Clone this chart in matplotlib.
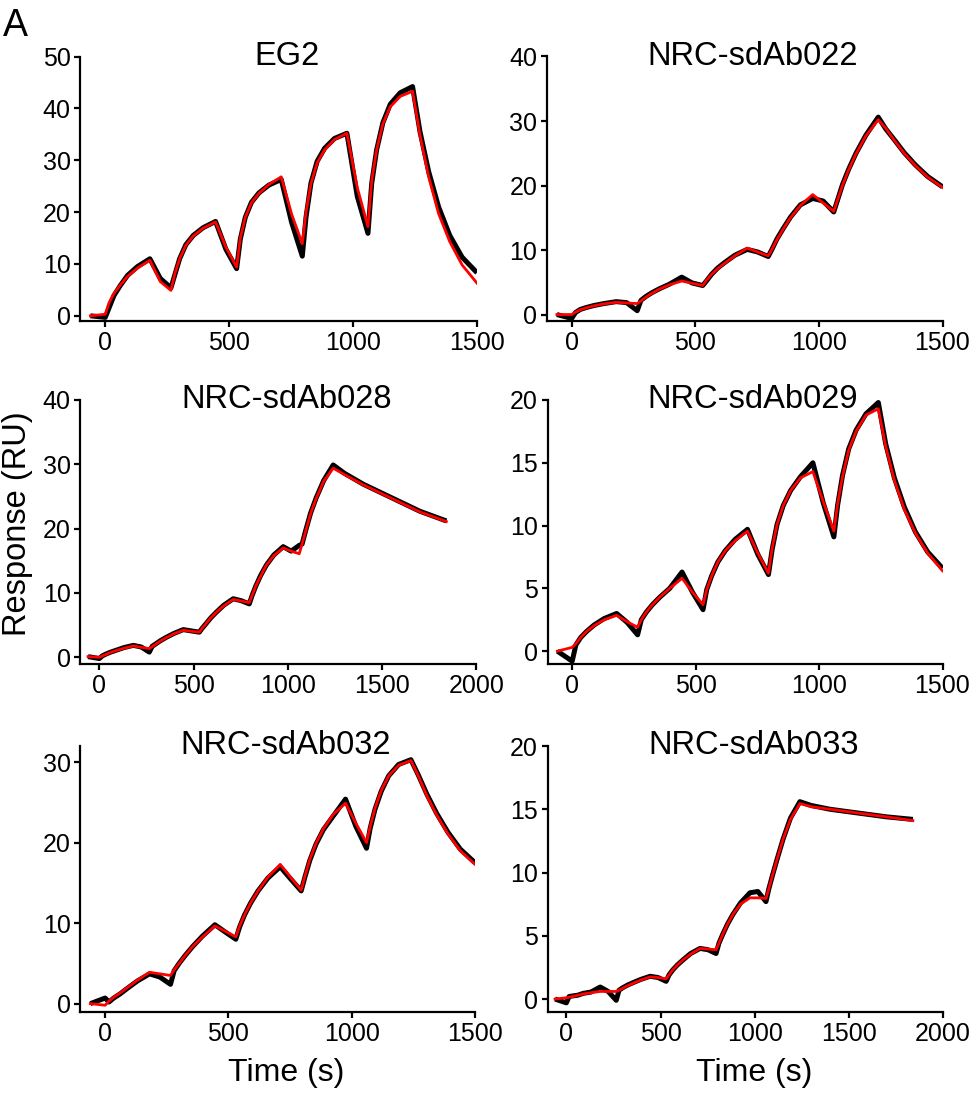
import matplotlib
matplotlib.use("Agg")
import matplotlib.pyplot as plt

plt.rcParams['font.family'] = ['Liberation Sans', 'DejaVu Sans']

# ---------------- data ----------------
titles = ["EG2", "NRC-sdAb022", "NRC-sdAb028", "NRC-sdAb029", "NRC-sdAb032", "NRC-sdAb033"]
xlims = [(-100, 1500), (-100, 1500), (-100, 2000), (-100, 1500), (-100, 1500), (-100, 2000)]
ylims = [(-1, 50), (-1, 40), (-1, 40), (-1, 20), (-1, 32), (-1, 20)]
yticks = [[0, 10, 20, 30, 40, 50], [0, 10, 20, 30, 40], [0, 10, 20, 30, 40],
          [0, 5, 10, 15, 20], [0, 10, 20, 30], [0, 5, 10, 15, 20]]
xticks = [[0, 500, 1000, 1500], [0, 500, 1000, 1500], [0, 500, 1000, 1500, 2000],
          [0, 500, 1000, 1500], [0, 500, 1000, 1500], [0, 500, 1000, 1500, 2000]]

# time grids (s)
t_short = [-60, 0, 15, 35, 60, 90, 130, 180, 222, 265, 280, 300, 325, 355, 395, 445,
           487, 530, 545, 565, 590, 620, 660, 710, 752, 795, 810, 830, 855, 885, 925,
           975, 1017, 1060, 1075, 1095, 1120, 1150, 1190, 1240, 1270, 1305, 1345,
           1390, 1440, 1500]
t_long = [-60, 0, 15, 35, 60, 90, 130, 180, 222, 265, 280, 300, 325, 355, 395, 445,
          487, 530, 545, 565, 590, 620, 660, 710, 752, 795, 810, 830, 855, 885, 925,
          975, 1017, 1060, 1075, 1095, 1120, 1150, 1190, 1240, 1300, 1400, 1500,
          1600, 1700, 1840]

# ---- EG2 ----
eg2_fit = [0, 0.3, 2.5, 4.3, 5.9, 7.6, 9.2, 10.7, 6.6, 4.9, 8.0, 11.0, 13.6, 15.4, 16.9, 18.1,
           13.2, 9.4, 15.0, 19.0, 21.8, 23.6, 25.3, 26.8, 19.6, 13.9, 20.0, 25.5, 29.5, 32.0, 34.0,
           35.2, 24.7, 17.2, 26.0, 32.0, 37.0, 40.3, 42.3, 43.3, 34.8, 26.8, 19.7, 14.3, 9.8, 6.3]
eg2_data = [0, -0.3, 1.5, 3.9, 5.8, 7.8, 9.5, 11.0, 7.2, 5.4, 7.8, 11.0, 13.7, 15.5, 17.0, 18.2,
            12.8, 9.1, 14.8, 19.0, 21.9, 23.7, 25.2, 26.3, 18.0, 11.5, 19.0, 25.6, 29.8, 32.3, 34.2,
            35.2, 23.0, 15.9, 25.5, 32.0, 37.2, 40.8, 43.0, 44.2, 35.5, 27.8, 21.0, 15.5, 11.3, 8.3]

# ---- NRC-sdAb022 ----
s022_fit = [0, 0, 0.35, 0.75, 1.05, 1.35, 1.65, 1.9, 1.8, 1.7, 2.1, 2.7, 3.3, 3.95, 4.6, 5.2,
            4.85, 4.5, 5.3, 6.2, 7.1, 8.0, 9.1, 10.3, 9.7, 9.1, 10.1, 11.6, 13.2, 15.0, 16.9,
            18.6, 17.3, 16.0, 17.7, 20.0, 22.4, 24.9, 27.7, 30.2, 28.9, 27.0, 25.0, 23.1, 21.3, 19.7]
s022_data = [0, -0.6, 0.3, 0.8, 1.1, 1.4, 1.7, 2.0, 1.85, 0.6, 2.2, 2.8, 3.4, 4.0, 4.7, 5.8,
             4.9, 4.5, 5.2, 6.2, 7.2, 8.1, 9.2, 10.1, 9.7, 9.0, 10.1, 11.7, 13.3, 15.1, 17.0,
             18.0, 17.6, 15.9, 17.7, 20.1, 22.5, 25.0, 27.8, 30.6, 28.8, 27.1, 25.1, 23.2, 21.4, 19.8]

# ---- NRC-sdAb028 ----
s028_fit = [0.1, 0, 0.2, 0.45, 0.75, 1.05, 1.4, 1.75, 1.55, 1.35, 1.65, 2.05, 2.55, 3.05, 3.65, 4.2,
            4.05, 3.9, 4.5, 5.2, 6.1, 7.0, 8.0, 9.0, 8.75, 8.5, 9.6, 11.1, 12.6, 14.3, 15.8,
            17.0, 16.5, 16.1, 17.6, 19.7, 22.3, 24.7, 27.4, 29.4, 28.4, 26.8, 25.4, 24.0, 22.6, 21.1]
s028_data = [0.1, -0.2, 0.2, 0.5, 0.8, 1.1, 1.5, 1.85, 1.6, 0.8, 1.7, 2.1, 2.6, 3.1, 3.7, 4.3,
             4.1, 3.9, 4.5, 5.2, 6.1, 7.0, 8.1, 9.1, 8.8, 8.3, 9.6, 11.1, 12.7, 14.3, 15.9,
             17.2, 16.5, 17.4, 17.6, 19.8, 22.4, 24.8, 27.5, 29.9, 28.6, 26.9, 25.5, 24.1, 22.7, 21.2]

# ---- NRC-sdAb029 ----
s029_fit = [0, 0.3, 0.6, 1.1, 1.6, 2.05, 2.5, 2.85, 2.35, 1.9, 2.5, 3.1, 3.7, 4.3, 5.0, 5.8,
            4.7, 3.7, 4.9, 6.0, 7.1, 8.0, 8.8, 9.55, 7.8, 6.2, 8.2, 10.1, 11.6, 12.8, 13.8,
            14.3, 11.9, 9.55, 11.7, 13.9, 16.0, 17.5, 18.8, 19.3, 16.3, 13.6, 11.3, 9.4, 7.8, 6.4]
s029_data = [0, -0.8, 0.5, 1.1, 1.6, 2.1, 2.6, 3.0, 2.3, 1.3, 2.5, 3.1, 3.7, 4.3, 5.0, 6.3,
             4.7, 3.3, 4.9, 6.0, 7.1, 8.0, 8.9, 9.7, 7.7, 6.1, 8.1, 10.1, 11.6, 12.8, 13.9,
             15.0, 11.8, 9.1, 11.6, 14.0, 16.1, 17.6, 18.9, 19.8, 16.5, 13.8, 11.5, 9.5, 7.9, 6.6]

# ---- NRC-sdAb032 ----
s032_fit = [0, -0.2, 0.3, 0.8, 1.3, 2.0, 2.9, 3.9, 3.7, 3.5, 4.2, 5.0, 6.0, 7.1, 8.3, 9.65,
            9.0, 8.3, 9.6, 11.0, 12.5, 14.0, 15.7, 17.3, 15.7, 14.1, 15.8, 17.9, 19.9, 21.7, 23.5,
            24.9, 22.4, 20.0, 22.0, 24.3, 26.5, 28.3, 29.6, 30.2, 28.3, 25.8, 23.4, 21.1, 19.0, 17.3]
s032_data = [0, 0.7, 0.2, 0.7, 1.2, 1.9, 2.8, 3.7, 3.3, 2.4, 4.1, 5.0, 6.0, 7.1, 8.4, 9.8,
             8.9, 8.0, 9.5, 11.0, 12.5, 14.0, 15.6, 17.0, 15.5, 14.0, 15.7, 17.8, 19.8, 21.6, 23.3,
             25.4, 22.0, 19.3, 21.8, 24.2, 26.4, 28.3, 29.7, 30.3, 28.4, 26.0, 23.6, 21.3, 19.2, 17.5]

# ---- NRC-sdAb033 ----
s033_fit = [0, 0.1, 0.15, 0.2, 0.3, 0.4, 0.5, 0.6, 0.6, 0.6, 0.7, 0.85, 1.05, 1.25, 1.5, 1.75,
            1.7, 1.6, 1.9, 2.3, 2.7, 3.1, 3.55, 4.0, 3.95, 3.9, 4.4, 5.1, 5.9, 6.7, 7.5,
            8.0, 8.0, 7.95, 8.7, 9.8, 11.1, 12.6, 14.2, 15.45, 15.2, 15.0, 14.8, 14.6, 14.4, 14.1]
s033_data = [0, -0.3, 0.2, 0.25, 0.3, 0.45, 0.55, 0.95, 0.6, -0.1, 0.7, 0.9, 1.1, 1.3, 1.55, 1.8,
             1.7, 1.4, 1.9, 2.3, 2.7, 3.1, 3.6, 4.0, 3.9, 3.6, 4.4, 5.1, 5.9, 6.7, 7.6,
             8.4, 8.5, 7.7, 8.7, 9.8, 11.1, 12.6, 14.3, 15.6, 15.3, 15.0, 14.8, 14.6, 14.4, 14.2]

times = [t_short, t_short, t_long, t_short, t_short, t_long]
fits = [eg2_fit, s022_fit, s028_fit, s029_fit, s032_fit, s033_fit]
datas = [eg2_data, s022_data, s028_data, s029_data, s032_data, s033_data]

# ---------------- figure ----------------
W, H = 979, 1094
fig = plt.figure(figsize=(W / 100, H / 100), dpi=100)

# axes boxes in pixels: (left, top, right, bottom)
boxes = [(80.5, 56.5, 477, 321), (547, 56.5, 942.5, 321),
         (80.5, 400, 476.5, 663.7), (547.5, 400, 942.5, 663.7),
         (80.5, 746, 475, 1011.7), (547.5, 746, 943, 1011.7)]

for i, (l, t, r, b) in enumerate(boxes):
    ax = fig.add_axes([l / W, 1 - b / H, (r - l) / W, (b - t) / H])
    ax.plot(times[i], datas[i], color='black', lw=3.6, solid_joinstyle='round',
            solid_capstyle='butt', zorder=2)
    ax.plot(times[i], fits[i], color='#ff0000', lw=2.0, solid_joinstyle='round', zorder=3)
    ax.set_xlim(*xlims[i])
    ax.set_ylim(*ylims[i])
    ax.set_xticks(xticks[i])
    ax.set_yticks(yticks[i])
    for s in ['top', 'right']:
        ax.spines[s].set_visible(False)
    for s in ['left', 'bottom']:
        ax.spines[s].set_linewidth(1.6)
    ax.tick_params(axis='both', which='major', length=4.5, width=1.6, labelsize=18,
                   direction='out', colors='black')
    ax.tick_params(axis='x', pad=3)
    ax.tick_params(axis='y', pad=2.5)
    ax.text(0.52, 1.0, titles[i], transform=ax.transAxes, ha='center', va='center',
            fontsize=23.5)

fig.text(18 / W, 1 - 524 / H, "Response (RU)", rotation=90, ha='center', va='center',
         fontsize=23.5)
fig.text(286 / W, 1 - 1073 / H, "Time (s)", ha='center', va='center', fontsize=23)
fig.text(754 / W, 1 - 1073 / H, "Time (s)", ha='center', va='center', fontsize=23)
fig.text(3 / W, 1 - 8 / H, "A", ha='left', va='top', fontsize=27)

fig.savefig("out.png", dpi=100)
